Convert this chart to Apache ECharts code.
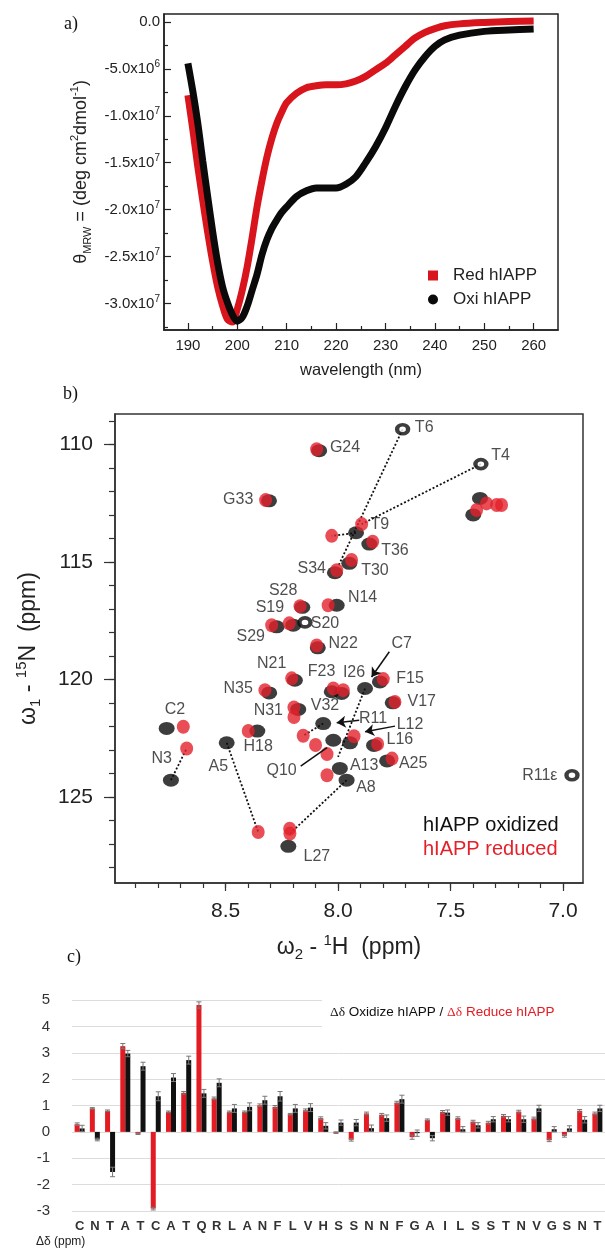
<!DOCTYPE html>
<html>
<head>
<meta charset="utf-8">
<script src="https://cdn.jsdelivr.net/npm/echarts@6/dist/echarts.min.js"></script>
<style>
html, body { margin: 0; padding: 0; background: #fff; }
#chart { width: 605px; height: 1249px; }
</style>
</head>
<body>
<div id="chart"></div>
<script>
// ---- a) CD spectra, values in units of 1e6 deg cm2 dmol-1 ----
var wavelength = [190,191,192,193,194,195,196,197,198,199,200,201,202,203,204,205,206,207,208,209,210,212,214,216,218,220,222,224,226,228,230,232,234,236,238,240,242,245,250,255,260];
var redCD = [-7.8,-11.5,-15.4,-19.0,-22.4,-25.5,-28.2,-30.2,-31.7,-32.0,-30.6,-28.6,-26.1,-23.0,-19.7,-16.9,-14.4,-12.4,-10.8,-9.6,-8.6,-7.6,-7.0,-6.8,-6.7,-6.7,-6.6,-6.3,-5.8,-5.1,-4.4,-3.5,-2.6,-1.7,-1.1,-0.7,-0.4,-0.2,-0.05,0.05,0.1];
var oxiCD = [-4.4,-7.4,-10.8,-14.8,-18.6,-22.3,-25.6,-28.2,-29.9,-31.2,-31.9,-31.5,-30.3,-28.6,-26.9,-24.8,-23.2,-22.0,-21.1,-20.3,-19.7,-18.6,-18.0,-17.7,-17.7,-17.7,-17.3,-16.5,-15.0,-13.3,-11.3,-9.0,-6.9,-5.1,-3.7,-2.6,-1.9,-1.4,-1.0,-0.85,-0.75];
var cdMajorY = [0,-5,-10,-15,-20,-25,-30];
var cdMinorY = [-2.5,-7.5,-12.5,-17.5,-22.5,-27.5,-32.5];
var cdMajorX = [190,200,210,220,230,240,250,260];
var cdMinorX = [195,205,215,225,235,245,255];

// ---- b) HSQC peaks [1H ppm, 15N ppm] ----
var oxiPeaks = [[7.369,112.30],[7.399,113.0],[8.084,110.27],[8.307,112.40],[7.920,113.76],[7.861,114.24],[7.950,115.06],[8.014,115.46],[8.006,116.84],[8.159,116.93],[8.199,117.69],[8.273,117.76],[8.09,118.65],[8.192,120.03],[8.306,120.57],[8.028,120.52],[7.984,120.59],[7.880,120.38],[7.814,120.10],[7.757,120.99],[8.177,121.27],[8.066,121.87],[8.762,122.08],[8.743,124.28],[8.359,122.19],[8.495,122.69],[8.021,122.58],[7.947,122.69],[7.84,122.8],[7.782,123.46],[7.992,123.78],[7.962,124.28],[8.221,127.09]];
var weakOxiPeaks = [[7.713,109.36],[7.365,110.84],[8.147,117.57],[6.960,124.07]];
var redPeaks = [[7.384,112.79],[7.340,112.51],[7.295,112.58],[7.273,112.58],[8.095,110.21],[8.322,112.37],[7.895,113.39],[8.028,113.89],[7.846,114.14],[7.940,114.92],[8.006,115.35],[8.044,116.84],[8.169,116.88],[8.217,117.61],[8.295,117.69],[8.095,118.55],[8.206,119.95],[8.021,120.38],[7.977,120.45],[7.799,119.98],[7.747,120.95],[8.325,120.45],[8.196,121.19],[8.196,121.59],[8.155,122.39],[8.688,122.01],[8.673,122.93],[8.399,122.19],[8.355,126.48],[8.214,126.55],[8.215,126.34],[8.10,122.78],[8.049,123.17],[8.049,124.07],[7.929,122.41],[7.824,122.74],[7.760,123.36]];
var peakLabels = [['T6',7.617,109.28],['T4',7.277,110.46],['G24',7.969,110.13],['G33',8.444,112.37],['T9',7.814,113.43],['T36',7.747,114.5],['T30',7.836,115.35],['S34',8.117,115.27],['N14',7.891,116.52],['S28',8.244,116.23],['S19',8.303,116.93],['S20',8.058,117.64],['S29',8.388,118.18],['N22',7.977,118.49],['C7',7.717,118.46],['N21',8.295,119.32],['F23',8.073,119.67],['I26',7.929,119.71],['F15',7.68,119.98],['N35',8.444,120.38],['V17',7.628,120.95],['N31',8.31,121.33],['V32',8.058,121.12],['C2',8.725,121.27],['R11',7.844,121.65],['L12',7.68,121.9],['H18',8.355,122.86],['L16',7.725,122.55],['N3',8.784,123.36],['A5',8.532,123.71],['Q10',8.251,123.85],['A13',7.884,123.64],['A25',7.666,123.57],['A8',7.876,124.61],['L27',8.094,127.54],['R11\u03b5',7.103,124.07]];
var shiftLinks = [[[7.713,109.36],[8.0,115.2]],[[7.365,110.84],[7.895,113.39]],[[7.920,113.76],[8.028,113.89]],[[8.743,124.28],[8.673,122.93]],[[8.495,122.69],[8.355,126.48]],[[7.962,124.28],[8.214,126.55]],[[8.066,121.87],[8.155,122.39]],[[7.880,120.38],[8.0,123.29]]];
var pointerArrows = [[[7.772,118.82],[7.851,119.89]],[[7.906,121.73],[8.006,121.84]],[[7.747,121.98],[7.88,122.22]]];
var pointerLines = [[[8.166,123.68],[8.049,122.89]]];
var hMajor = [8.5,8.0,7.5,7.0];
var hMinor = [8.9,8.8,8.7,8.6,8.5,8.4,8.3,8.2,8.1,8.0,7.9,7.8,7.7,7.6,7.5,7.4,7.3,7.2,7.1,7.0];
var nMajor = [110,115,120,125];
var nMinor = [109,110,111,112,113,114,115,116,117,118,119,120,121,122,123,124,125,126,127,128];

// ---- c) chemical shift differences (ppm) ----
var residues = ['C','N','T','A','T','C','A','T','Q','R','L','A','N','F','L','V','H','S','S','N','N','F','G','A','I','L','S','S','T','N','V','G','S','N','T'];
var reduceShift = [0.29,0.89,0.80,3.25,-0.07,-2.91,0.76,1.48,4.81,1.27,0.76,0.76,1.01,0.95,0.67,0.82,0.52,-0.03,-0.30,0.70,0.65,1.11,-0.20,0.46,0.76,0.52,0.39,0.35,0.61,0.77,0.51,-0.32,-0.15,0.80,0.70];
var oxidizeShift = [0.13,-0.29,-1.52,2.97,2.49,1.35,2.06,2.72,1.46,1.86,0.89,0.95,1.20,1.35,0.89,0.92,0.23,0.35,0.35,0.14,0.52,1.24,-0.05,-0.24,0.73,0.10,0.25,0.48,0.48,0.48,0.89,0.10,0.13,0.46,0.89];
var reduceErr = [0.05,0.03,0.03,0.10,0.03,0.05,0.03,0.05,0.12,0.05,0.03,0.03,0.05,0.05,0.03,0.05,0.05,0.03,0.05,0.05,0.05,0.05,0.08,0.03,0.05,0.05,0.05,0.05,0.05,0.05,0.05,0.05,0.05,0.05,0.05];
var oxidizeErr = [0.12,0.05,0.18,0.12,0.15,0.17,0.15,0.15,0.15,0.15,0.15,0.15,0.15,0.18,0.15,0.15,0.12,0.10,0.12,0.12,0.12,0.15,0.12,0.10,0.10,0.10,0.10,0.10,0.10,0.12,0.12,0.10,0.10,0.12,0.12];

var FONT = 'Liberation Sans, Arial, sans-serif';
var SERIF = 'Liberation Serif, Times New Roman, serif';

function pairs(xs, ys) {
    var out = [];
    for (var i = 0; i < xs.length; i++) out.push([xs[i], ys[i]]);
    return out;
}

function errData(vals, errs) {
    return vals.map(function (v, i) { return [i, v - errs[i], v + errs[i]]; });
}

function errRender(offset) {
    return function (params, api) {
        var i = api.value(0);
        var a = api.coord([i, api.value(2)]);
        var b = api.coord([i, api.value(1)]);
        var x = a[0] + offset;
        var st = { stroke: '#777', lineWidth: 1 };
        return {
            type: 'group',
            children: [
                { type: 'line', shape: { x1: x, y1: a[1], x2: x, y2: b[1] }, style: st },
                { type: 'line', shape: { x1: x - 2.5, y1: a[1], x2: x + 2.5, y2: a[1] }, style: st },
                { type: 'line', shape: { x1: x - 2.5, y1: b[1], x2: x + 2.5, y2: b[1] }, style: st }
            ]
        };
    };
}

function cdLabel(v) {
    if (v === 0) return '0.0';
    var e = Math.abs(v) >= 10 ? 7 : 6;
    var m = v / Math.pow(10, e - 6);
    return '{n|' + m.toFixed(1) + 'x10}{s|' + e + '}';
}

// rich text for axis names with sub/superscripts
function nameRich(size, small) {
    return {
        t: { fontSize: size, color: '#222', fontFamily: FONT, lineHeight: size + 6 },
        sb: { fontSize: small, color: '#222', fontFamily: FONT, lineHeight: size + 6, verticalAlign: 'bottom' },
        sp: { fontSize: small, color: '#222', fontFamily: FONT, lineHeight: size + 6, verticalAlign: 'top' }
    };
}

var chart = echarts.init(document.getElementById('chart'));

var option = {
    animation: false,
    backgroundColor: '#fff',
    textStyle: { fontFamily: FONT },
    grid: [
        { left: 164, top: 14, width: 394, height: 316, show: true, borderColor: '#222', borderWidth: 1.5 },
        { left: 115, top: 414, width: 468, height: 469, show: true, borderColor: '#333', borderWidth: 1.5 },
        { left: 72, top: 1000, width: 535, height: 211 }
    ],
    legend: [{
        data: [{ name: 'Red hIAPP', icon: 'rect' }, { name: 'Oxi hIAPP', icon: 'circle' }],
        orient: 'vertical', left: 423, top: 262, itemWidth: 10, itemHeight: 10, itemGap: 7,
        selectedMode: false,
        textStyle: { fontSize: 17, color: '#222', fontFamily: FONT, padding: [0, 0, 0, 10] }
    }],
    xAxis: [
        { type: 'value', gridIndex: 0, min: 185.16, max: 264.93, position: 'bottom',
          name: 'wavelength (nm)', nameLocation: 'middle', nameGap: 32,
          nameTextStyle: { fontSize: 16.5, color: '#222', fontFamily: FONT },
          axisLine: { onZero: false, lineStyle: { color: '#222', width: 1.5 } },
          axisTick: { inside: true, length: 7, customValues: cdMajorX, lineStyle: { color: '#222', width: 1.2 } },
          axisLabel: { customValues: cdMajorX, fontSize: 15, color: '#222', margin: 8 },
          splitLine: { show: false } },
        { type: 'value', gridIndex: 0, min: 185.16, max: 264.93, position: 'bottom',
          axisLine: { show: false, onZero: false },
          axisTick: { inside: true, length: 4, customValues: cdMinorX, lineStyle: { color: '#222', width: 1.2 } },
          axisLabel: { show: false }, splitLine: { show: false } },
        { type: 'value', gridIndex: 1, min: 6.911, max: 8.9916, inverse: true, position: 'bottom',
          name: '{t|\u03c9}{sb|2}{t| - }{sp|1}{t|H  (ppm)}', nameLocation: 'middle', nameGap: 50,
          nameTextStyle: { rich: nameRich(23, 15) },
          axisLine: { onZero: false, lineStyle: { color: '#333', width: 1.5 } },
          axisTick: { length: 8, customValues: hMajor, lineStyle: { color: '#333', width: 1.2 } },
          axisLabel: { customValues: hMajor, fontSize: 21, color: '#222', margin: 18,
                       formatter: function (v) { return v.toFixed(1); } },
          splitLine: { show: false } },
        { type: 'value', gridIndex: 1, min: 6.911, max: 8.9916, inverse: true, position: 'bottom',
          axisLine: { show: false, onZero: false },
          axisTick: { length: 5, customValues: hMinor, lineStyle: { color: '#333', width: 1.2 } },
          axisLabel: { show: false }, splitLine: { show: false } },
        { type: 'category', gridIndex: 2, data: residues, boundaryGap: true,
          axisLine: { show: false, onZero: true }, axisTick: { show: false },
          axisLabel: { fontSize: 13, fontWeight: 'bold', color: '#333', margin: 9, interval: 0 } }
    ],
    yAxis: [
        { type: 'value', gridIndex: 0, min: -32.84, max: 0.853, position: 'left',
          name: '{t|\u03b8}{sb|MRW}{t| = (deg cm}{sp|2}{t|dmol}{sp|-1}{t|)}', nameLocation: 'middle', nameGap: 65, nameRotate: 90,
          nameTextStyle: { rich: nameRich(18, 11) },
          axisLine: { onZero: false, lineStyle: { color: '#222', width: 1.5 } },
          axisTick: { inside: true, length: 7, customValues: cdMajorY, lineStyle: { color: '#222', width: 1.2 } },
          axisLabel: { customValues: cdMajorY, margin: 4, formatter: cdLabel, fontSize: 15, color: '#222',
                       rich: { n: { fontSize: 15, color: '#222', fontFamily: FONT, lineHeight: 19 },
                               s: { fontSize: 10, color: '#222', fontFamily: FONT, lineHeight: 19, verticalAlign: 'top' } } },
          splitLine: { show: false } },
        { type: 'value', gridIndex: 0, min: -32.84, max: 0.853, position: 'left',
          axisLine: { show: false, onZero: false },
          axisTick: { inside: true, length: 4, customValues: cdMinorY, lineStyle: { color: '#222', width: 1.2 } },
          axisLabel: { show: false }, splitLine: { show: false } },
        { type: 'value', gridIndex: 1, min: 108.71, max: 128.65, inverse: true, position: 'left',
          name: '{t|\u03c9}{sb|1}{t| - }{sp|15}{t|N  (ppm)}', nameLocation: 'middle', nameGap: 72, nameRotate: 90,
          nameTextStyle: { rich: nameRich(23, 15) },
          axisLine: { onZero: false, lineStyle: { color: '#333', width: 1.5 } },
          axisTick: { length: 11, customValues: nMajor, lineStyle: { color: '#333', width: 1.2 } },
          axisLabel: { customValues: nMajor, fontSize: 21, color: '#222', margin: 22 },
          splitLine: { show: false } },
        { type: 'value', gridIndex: 1, min: 108.71, max: 128.65, inverse: true, position: 'left',
          axisLine: { show: false, onZero: false },
          axisTick: { length: 6, customValues: nMinor, lineStyle: { color: '#333', width: 1.2 } },
          axisLabel: { show: false }, splitLine: { show: false } },
        { type: 'value', gridIndex: 2, min: -3, max: 5, interval: 1,
          axisLine: { show: false }, axisTick: { show: false },
          axisLabel: { fontSize: 15, color: '#333', margin: 22 },
          splitLine: { lineStyle: { color: '#dcdcdc', width: 1 } } }
    ],
    series: [
        // a)
        { name: 'Red hIAPP', type: 'line', xAxisIndex: 0, yAxisIndex: 0, data: pairs(wavelength, redCD),
          smooth: 0.3, showSymbol: false, symbol: 'rect', color: '#d8141c',
          lineStyle: { width: 7, color: '#d8141c' } },
        { name: 'Oxi hIAPP', type: 'line', xAxisIndex: 0, yAxisIndex: 0, data: pairs(wavelength, oxiCD),
          smooth: 0.3, showSymbol: false, symbol: 'circle', color: '#0a0a0a',
          lineStyle: { width: 7, color: '#0a0a0a' } },
        // b)
        { type: 'lines', coordinateSystem: 'cartesian2d', xAxisIndex: 2, yAxisIndex: 2, silent: true, z: 1,
          data: shiftLinks.map(function (c) { return { coords: c }; }),
          lineStyle: { color: '#111', width: 1.8, type: [2, 2], opacity: 1 } },
        { type: 'scatter', xAxisIndex: 2, yAxisIndex: 2, data: oxiPeaks, symbol: 'circle', symbolSize: [16, 13],
          itemStyle: { color: '#0d0d0d' }, z: 2 },
        { type: 'scatter', xAxisIndex: 2, yAxisIndex: 2, data: weakOxiPeaks, symbol: 'circle', symbolSize: [11, 9],
          itemStyle: { color: '#fff', borderColor: '#0d0d0d', borderWidth: 4 }, z: 2 },
        { type: 'scatter', xAxisIndex: 2, yAxisIndex: 2, data: redPeaks, symbol: 'circle', symbolSize: [13, 14],
          itemStyle: { color: '#e4212a' }, z: 3 },
        { type: 'lines', coordinateSystem: 'cartesian2d', xAxisIndex: 2, yAxisIndex: 2, silent: true, z: 4,
          data: pointerArrows.map(function (c) { return { coords: c }; }),
          symbol: ['none', 'arrow'], symbolSize: 9,
          lineStyle: { color: '#111', width: 1.5, type: 'solid', opacity: 1 } },
        { type: 'lines', coordinateSystem: 'cartesian2d', xAxisIndex: 2, yAxisIndex: 2, silent: true, z: 4,
          data: pointerLines.map(function (c) { return { coords: c }; }),
          lineStyle: { color: '#111', width: 1.5, type: 'solid', opacity: 1 } },
        { type: 'scatter', xAxisIndex: 2, yAxisIndex: 2, silent: true, z: 5, symbolSize: 1,
          itemStyle: { color: 'rgba(0,0,0,0)' },
          data: peakLabels.map(function (p) { return { name: p[0], value: [p[1], p[2]] }; }),
          label: { show: true, position: 'inside', formatter: '{b}', fontSize: 16, color: '#222', fontFamily: FONT } },
        // c)
        { type: 'bar', xAxisIndex: 4, yAxisIndex: 4, data: reduceShift, barWidth: 5, barGap: '0%',
          itemStyle: { color: '#e31b23' } },
        { type: 'bar', xAxisIndex: 4, yAxisIndex: 4, data: oxidizeShift, barWidth: 5, barGap: '0%',
          itemStyle: { color: '#111' } },
        { type: 'custom', xAxisIndex: 4, yAxisIndex: 4, data: errData(reduceShift, reduceErr),
          renderItem: errRender(-2.5), encode: { x: 0, y: [1, 2] }, z: 3, silent: true },
        { type: 'custom', xAxisIndex: 4, yAxisIndex: 4, data: errData(oxidizeShift, oxidizeErr),
          renderItem: errRender(2.5), encode: { x: 0, y: [1, 2] }, z: 3, silent: true }
    ],
    graphic: [
        { type: 'text', left: 64, top: 15, style: { text: 'a)', font: '18px ' + SERIF, fill: '#111' } },
        { type: 'text', left: 63, top: 385, style: { text: 'b)', font: '18px ' + SERIF, fill: '#111' } },
        { type: 'text', left: 67, top: 948, style: { text: 'c)', font: '18px ' + SERIF, fill: '#111' } },
        { type: 'text', left: 423, top: 815, style: { text: 'hIAPP oxidized', font: '20px ' + FONT, fill: '#111' } },
        { type: 'text', left: 423, top: 839, style: { text: 'hIAPP reduced', font: '20px ' + FONT, fill: '#e4212a' } },
        { type: 'rect', left: 322, top: 996, shape: { width: 290, height: 35 }, style: { fill: '#fff' }, z: 50 },
        { type: 'text', left: 330, top: 1005, z: 51, style: {
            text: '{g|\u0394\u03b4}{k| Oxidize hIAPP / }{rg|\u0394\u03b4}{r| Reduce hIAPP}',
            rich: { g: { font: '13.5px ' + SERIF, fill: '#111' }, k: { font: '13.5px ' + FONT, fill: '#111' },
                    rg: { font: '13.5px ' + SERIF, fill: '#e31b23' }, r: { font: '13.5px ' + FONT, fill: '#e31b23' } } } },
        { type: 'text', left: 36, top: 1236, style: { text: '\u0394\u03b4 (ppm)', font: '12px ' + FONT, fill: '#222' } }
    ]
};

chart.setOption(option);
</script>
</body>
</html>
